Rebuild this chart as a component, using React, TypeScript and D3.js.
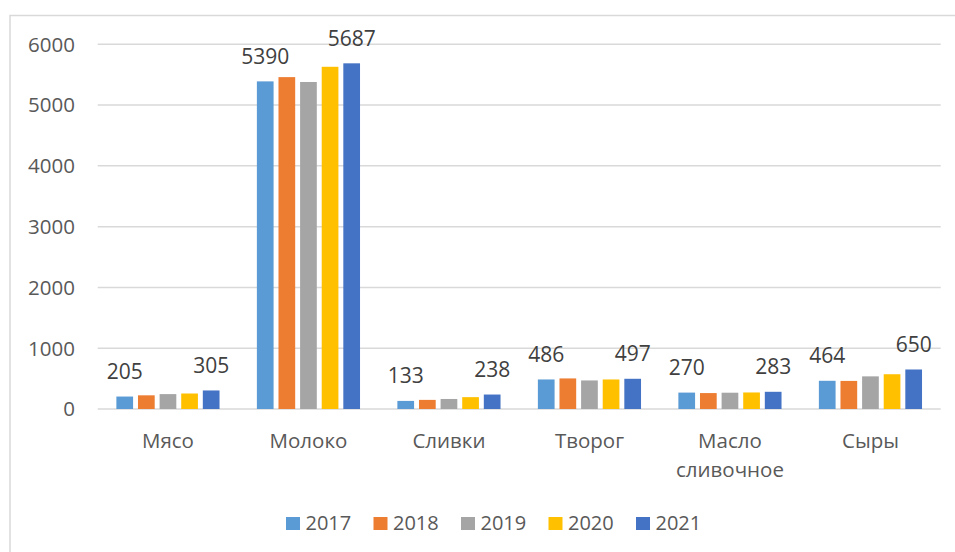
import React, { useRef, useEffect } from "react";
import * as d3 from "d3";

// Chart data
const categories = ["Мясо", "Молоко", "Сливки", "Творог", "Масло сливочное", "Сыры"];
const years = ["2017", "2018", "2019", "2020", "2021"];
const values2017 = [205, 5390, 133, 486, 270, 464];
const values2018 = [225, 5460, 150, 503, 262, 462];
const values2019 = [245, 5380, 165, 470, 268, 537];
const values2020 = [255, 5630, 195, 486, 272, 572];
const values2021 = [305, 5687, 238, 497, 283, 650];
const yTicks = [0, 1000, 2000, 3000, 4000, 5000, 6000];
const colors = ["#5B9BD5", "#ED7D31", "#A5A5A5", "#FFC000", "#4472C4"];
const labeledYears = ["2017", "2021"];

const seriesValues = [values2017, values2018, values2019, values2020, values2021];

const App = () => {
  const svgRef = useRef<SVGSVGElement>(null);

  useEffect(() => {
    const width = 955;
    const height = 552;
    const font = "'Open Sans', 'DejaVu Sans', sans-serif";
    const textColor = "#595959";

    const svg = d3.select(svgRef.current).attr("width", width).attr("height", height);
    svg.selectAll("*").remove();

    // outer chart border
    svg
      .append("rect")
      .attr("x", 10)
      .attr("y", 15.5)
      .attr("width", 960)
      .attr("height", 560)
      .attr("fill", "#fff")
      .attr("stroke", "#d9d9d9")
      .attr("stroke-width", 1.5);

    // scales
    const x0 = d3.scaleBand().domain(categories).range([97.7, 940.7]).padding(0);
    const x1 = d3
      .scaleBand()
      .domain(years)
      .range([0, x0.bandwidth()])
      .paddingInner(0.227)
      .paddingOuter(0.864);
    const y = d3.scaleLinear().domain([0, 6000]).range([409, 44.3]);

    // gridlines
    svg
      .append("g")
      .selectAll("line")
      .data(yTicks)
      .join("line")
      .attr("x1", 97.7)
      .attr("x2", 940.7)
      .attr("y1", (d) => y(d))
      .attr("y2", (d) => y(d))
      .attr("stroke", "#d9d9d9")
      .attr("stroke-width", 1.5);

    // y axis labels
    svg
      .append("g")
      .selectAll("text")
      .data(yTicks)
      .join("text")
      .attr("x", 75)
      .attr("y", (d) => y(d) + 7.3)
      .attr("text-anchor", "end")
      .attr("font-family", font)
      .attr("font-size", 20.5)
      .attr("fill", textColor)
      .text((d) => d);

    // bars
    const rows = categories.map((c, i) => ({
      category: c,
      items: years.map((yr, j) => ({ year: yr, value: seriesValues[j][i], color: colors[j] })),
    }));

    const groups = svg
      .append("g")
      .selectAll("g")
      .data(rows)
      .join("g")
      .attr("transform", (d) => `translate(${x0(d.category)},0)`);

    groups
      .selectAll("rect")
      .data((d) => d.items)
      .join("rect")
      .attr("x", (d) => x1(d.year)!)
      .attr("y", (d) => y(d.value))
      .attr("width", x1.bandwidth())
      .attr("height", (d) => y(0) - y(d.value))
      .attr("fill", (d) => d.color);

    // data labels for first and last year
    groups
      .selectAll("text")
      .data((d) => d.items.filter((it) => labeledYears.includes(it.year)))
      .join("text")
      .attr("x", (d) => x1(d.year)! + x1.bandwidth() / 2)
      .attr("y", (d) => y(d.value) - 17.5)
      .attr("text-anchor", "middle")
      .attr("font-family", font)
      .attr("font-size", 21)
      .attr("fill", "#404040")
      .text((d) => d.value);

    // category labels
    const catLabels = svg
      .append("g")
      .selectAll("text")
      .data(categories)
      .join("text")
      .attr("x", (d) => x0(d)! + x0.bandwidth() / 2)
      .attr("y", 448)
      .attr("text-anchor", "middle")
      .attr("font-family", font)
      .attr("font-size", 20.5)
      .attr("fill", textColor);

    catLabels.each(function (d) {
      const words = d.split(" ");
      const t = d3.select(this);
      words.forEach((w, i) => {
        t.append("tspan")
          .attr("x", x0(d)! + x0.bandwidth() / 2)
          .attr("dy", i === 0 ? 0 : 29)
          .text(w);
      });
    });

    // legend
    const legend = svg
      .append("g")
      .selectAll("g")
      .data(years)
      .join("g")
      .attr("transform", (d, i) => `translate(${286 + i * 87.5},0)`);

    legend
      .append("rect")
      .attr("x", 0)
      .attr("y", 517)
      .attr("width", 14)
      .attr("height", 13)
      .attr("fill", (d, i) => colors[i]);

    legend
      .append("text")
      .attr("x", 19.5)
      .attr("y", 530)
      .attr("font-family", font)
      .attr("font-size", 20)
      .attr("fill", textColor)
      .text((d) => d);
  }, []);

  return (
    <div style={{ position: "absolute", left: 0, top: 0 }}>
      <svg ref={svgRef} style={{ display: "block" }}></svg>
    </div>
  );
};

export default App;
